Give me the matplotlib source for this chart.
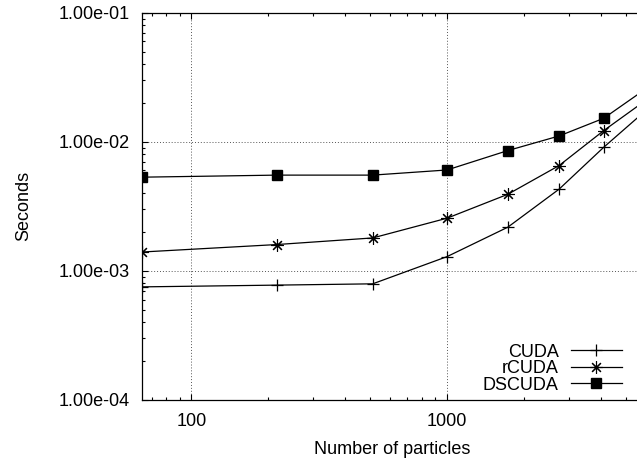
import matplotlib
matplotlib.use("Agg")
import matplotlib.pyplot as plt
from matplotlib.ticker import LogLocator, FuncFormatter, NullFormatter

# particles (cubes 4^3 .. 18^3), last point lies past the visible right edge
particles = [64, 216, 512, 1000, 1728, 2744, 4096, 5832]
cuda_sec = [7.52e-4, 7.76e-4, 7.94e-4, 1.29e-3, 2.18e-3, 4.30e-3, 9.06e-3, 1.67e-2]
rcuda_sec = [1.40e-3, 1.60e-3, 1.80e-3, 2.56e-3, 3.92e-3, 6.55e-3, 1.22e-2, 2.02e-2]
dscuda_sec = [5.32e-3, 5.52e-3, 5.52e-3, 6.05e-3, 8.55e-3, 1.11e-2, 1.52e-2, 2.48e-2]
series_names = ["CUDA", "rCUDA", "DSCUDA"]

plt.rcParams["font.family"] = ["Liberation Sans", "DejaVu Sans"]
plt.rcParams["font.size"] = 13

W, H = 637, 459
fig = plt.figure(figsize=(W / 100, H / 100), dpi=100)
# axes box in pixels: left 141.7, top 12.7, bottom 400, right beyond the image
ax = fig.add_axes([141.7 / W, (H - 400) / H, (642.9 - 141.7) / W, (400 - 12.7) / H])

style = dict(color="black", lw=0.9, clip_on=True)
ax.plot(particles, cuda_sec, marker="+", ms=9, mew=0.9, label=series_names[0], **style)
ax.plot(particles, rcuda_sec, marker=(8, 2, 0), ms=9, mew=0.8, label=series_names[1], **style)
ax.plot(particles, dscuda_sec, marker="s", ms=6.5, label=series_names[2], **style)

ax.set_xscale("log")
ax.set_yscale("log")
ax.set_xlim(64, 5832)
ax.set_ylim(1e-4, 1e-1)

ax.xaxis.set_major_locator(LogLocator(base=10))
ax.xaxis.set_minor_locator(LogLocator(base=10, subs=range(2, 10)))
ax.yaxis.set_major_locator(LogLocator(base=10))
ax.yaxis.set_minor_locator(LogLocator(base=10, subs=range(2, 10)))
ax.xaxis.set_major_formatter(FuncFormatter(lambda v, p: f"{v:g}"))
ax.yaxis.set_major_formatter(FuncFormatter(lambda v, p: f"{v:.2e}"))
ax.xaxis.set_minor_formatter(NullFormatter())
ax.yaxis.set_minor_formatter(NullFormatter())

ax.tick_params(which="both", direction="in", top=True, right=True, width=0.8)
ax.tick_params(which="major", length=4.5)
ax.tick_params(which="minor", length=2.5)
ax.tick_params(axis="y", pad=8.4)
ax.tick_params(axis="x", pad=9)

ax.grid(True, which="major", color="#555555", lw=0.7, linestyle=(0, (1, 2)))
for s in ax.spines.values():
    s.set_linewidth(0.9)

ax.set_xlabel("Number of particles", labelpad=8)
ax.set_ylabel("Seconds", labelpad=19)

ax.legend(loc="lower right", bbox_to_anchor=(622 / W, (H - 393.5) / H),
          bbox_transform=fig.transFigure, frameon=False, markerfirst=False,
          borderpad=0, borderaxespad=0, handlelength=2.83, handletextpad=0.67,
          labelspacing=-0.03)

fig.savefig("out.png", dpi=100)
